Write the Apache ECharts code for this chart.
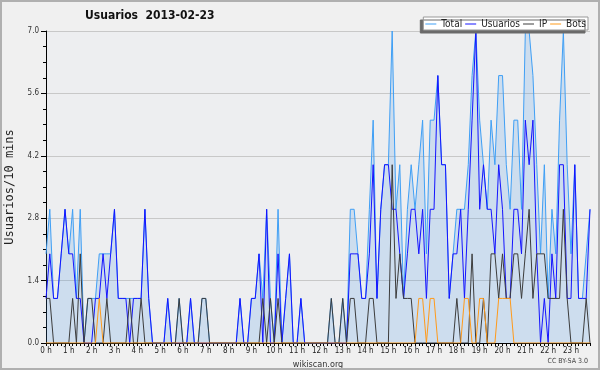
<!DOCTYPE html>
<html>
<head>
<meta charset="utf-8">
<script src="https://cdn.jsdelivr.net/npm/echarts@6/dist/echarts.min.js"></script>
<style>
html,body{margin:0;padding:0;background:#f0f0f0;}
#chart{width:600px;height:370px;}
</style>
</head>
<body>
<div id="chart"></div>
<script>
// Hour tick labels (one every 6 ten-minute slots)
const hourLabels = ['0 h','1 h','2 h','3 h','4 h','5 h','6 h','7 h','8 h','9 h','10 h','11 h',
  '12 h','13 h','14 h','15 h','16 h','17 h','18 h','19 h','20 h','21 h','22 h','23 h'];

// Series values, one per 10-minute slot (144 slots)
const total = [
  2,3,1,1,2,3,2,3,1,3, 0,1,1,1,2,2,2,2,3,1, 1,1,1,1,1,1,3,1,0,0,
  0,0,1,0,0,1,0,0,1,0, 0,1,1,0,0,0,0,0,0,0, 0,1,0,0,1,1,2,1,3,1,
  0,3,0,1,2,0,0,1,0,0, 0,0,0,0,0,1,0,0,1,0, 3,3,2,1,1,3,5,1,3,4,
  4,7,3,4,1,3,4,3,4,5, 2,5,5,6,4,4,1,2,3,3, 3,4,6,7,5,4,3,5,4,6,
  6,4,3,5,5,3,7,7,6,4, 2,4,1,3,2,5,7,4,2,4, 1,1,2,3
];
const usuarios = [
  1,2,1,1,2,3,2,2,1,1, 0,0,0,1,1,2,1,2,3,1, 1,1,0,1,1,1,3,1,0,0,
  0,0,1,0,0,0,0,0,1,0, 0,0,0,0,0,0,0,0,0,0, 0,1,0,0,1,1,2,0,3,0,
  0,2,0,1,2,0,0,1,0,0, 0,0,0,0,0,0,0,0,0,0, 2,2,2,1,1,2,4,1,3,4,
  4,3,3,2,1,2,3,3,2,3, 1,3,3,6,4,4,1,2,2,3, 1,3,5,7,3,4,3,3,2,4,
  3,1,1,3,3,2,5,4,5,2, 0,1,0,2,1,4,4,1,1,4, 1,1,1,3
];
const ip = [
  1,1,0,0,0,0,0,1,0,2, 0,1,1,0,0,0,1,0,0,0, 0,0,1,0,0,1,0,0,0,0,
  0,0,0,0,0,1,0,0,0,0, 0,1,1,0,0,0,0,0,0,0, 0,0,0,0,0,0,0,1,0,1,
  0,1,0,0,0,0,0,0,0,0, 0,0,0,0,0,1,0,0,1,0, 1,1,0,0,0,1,1,0,0,0,
  0,4,1,2,1,1,1,0,0,0, 0,0,0,0,0,0,0,0,1,0, 0,0,2,0,0,1,0,2,2,1,
  2,1,1,2,2,1,2,3,1,2, 2,2,1,1,1,1,3,1,0,0, 0,0,1,0
];
const bots = [
  0,0,0,0,0,0,0,0,0,0, 0,0,0,0,1,0,0,0,0,0, 0,0,0,0,0,0,0,0,0,0,
  0,0,0,0,0,0,0,0,0,0, 0,0,0,0,0,0,0,0,0,0, 0,0,0,0,0,0,0,0,0,0,
  0,0,0,0,0,0,0,0,0,0, 0,0,0,0,0,0,0,0,0,0, 0,0,0,0,0,0,0,0,0,0,
  0,0,0,0,0,0,0,0,1,1, 0,1,1,0,0,0,0,0,0,0, 1,1,0,0,1,1,0,0,0,1,
  1,1,1,0,0,0,0,0,0,0, 0,0,0,0,0,0,0,0,0,0, 0,0,0,0
];
const slots = total.map(function (_, i) { return i; });

const FONT = "'DejaVu Sans Condensed', 'DejaVu Sans', sans-serif";

const chart = echarts.init(document.getElementById('chart'), null, {renderer: 'canvas'});
chart.setOption({
  animation: false,
  backgroundColor: '#f0f0f0',
  title: {
    text: 'Usuarios  2013-02-23',
    left: 85, top: 10, padding: 0,
    textStyle: {fontFamily: FONT, fontSize: 12, fontWeight: 'bold', color: '#111'}
  },
  legend: {
    right: 12, top: 17,
    padding: [2, 2, 1, 2],
    itemGap: 3, itemWidth: 11, itemHeight: 1,
    icon: 'rect',
    backgroundColor: '#ffffff', borderColor: '#999999', borderWidth: 1,
    shadowColor: '#6a6a6a', shadowBlur: 0, shadowOffsetX: -3, shadowOffsetY: 3,
    textStyle: {fontFamily: FONT, fontSize: 10, color: '#222'},
    data: ['Total', 'Usuarios', 'IP', 'Bots'],
    z: 20
  },
  grid: {
    left: 46, right: 10, top: 31, bottom: 27,
    containLabel: false, outerBoundsMode: 'none',
    show: true, backgroundColor: '#edeef0', borderWidth: 0
  },
  xAxis: {
    type: 'category', data: slots, boundaryGap: false,
    name: 'wikiscan.org', nameLocation: 'middle', nameGap: 12,
    nameTextStyle: {fontFamily: FONT, fontSize: 9, color: '#333'},
    axisLine: {lineStyle: {color: '#000', width: 1}},
    axisTick: {show: true, interval: 0, length: 3, lineStyle: {color: '#000'}},
    axisLabel: {
      interval: function (idx) { return idx % 6 === 0; },
      formatter: function (v, idx) { return hourLabels[Math.round(idx / 6)]; },
      fontFamily: FONT, fontSize: 8, color: '#222', margin: 4
    },
    splitLine: {show: false}
  },
  yAxis: {
    type: 'value', min: 0, max: 7, interval: 1.4,
    name: 'Usuarios/10 mins', nameLocation: 'middle', nameGap: 30, nameRotate: 90,
    nameTextStyle: {fontFamily: "'DejaVu Sans Mono', monospace", fontSize: 12, color: '#222'},
    axisLine: {show: true, lineStyle: {color: '#000', width: 1}},
    axisTick: {show: true, length: 5, lineStyle: {color: '#000'}},
    minorTick: {show: true, splitNumber: 4, length: 3, lineStyle: {color: '#000'}},
    axisLabel: {
      formatter: function (v) { return v.toFixed(1); },
      fontFamily: FONT, fontSize: 8, color: '#333', margin: 7
    },
    splitLine: {show: true, lineStyle: {color: '#c8c8c8', width: 1}}
  },
  graphic: [
    {type: 'rect', shape: {x: 1, y: 1, width: 598, height: 368},
     style: {fill: 'none', stroke: '#b0b0b0', lineWidth: 2}, z: 30, silent: true},
    {type: 'text', x: 588, y: 361,
     style: {text: 'CC BY-SA 3.0', fontFamily: FONT, fontSize: 7, fill: '#444',
             textAlign: 'right', textVerticalAlign: 'middle'}, z: 30}
  ],
  series: [
    {name: 'Total', type: 'line', data: total, symbol: 'none',
     lineStyle: {color: '#3f9ff5', width: 1}, itemStyle: {color: '#3f9ff5'},
     areaStyle: {color: 'rgba(70,150,230,0.27)'}},
    {name: 'Usuarios', type: 'line', data: usuarios, symbol: 'none',
     lineStyle: {color: '#1414ff', width: 1}, itemStyle: {color: '#1414ff'}},
    {name: 'IP', type: 'line', data: ip, symbol: 'none',
     lineStyle: {color: '#3c3c3c', width: 1}, itemStyle: {color: '#3c3c3c'}},
    {name: 'Bots', type: 'line', data: bots, symbol: 'none',
     lineStyle: {color: '#ff9a1a', width: 1}, itemStyle: {color: '#ff9a1a'}}
  ]
});
</script>
</body>
</html>
